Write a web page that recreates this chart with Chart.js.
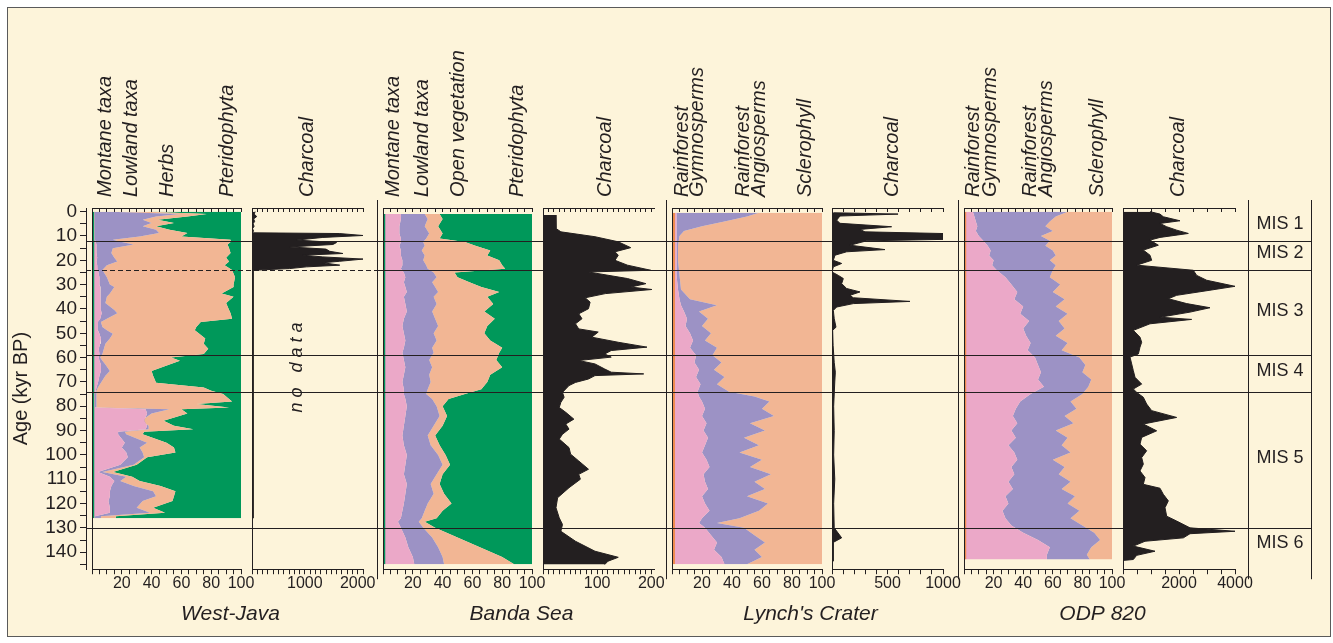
<!DOCTYPE html>
<html>
<head>
<meta charset="utf-8">
<script src="https://cdn.jsdelivr.net/npm/chart.js@4.4.1/dist/chart.umd.min.js"></script>
<style>
  html, body { margin: 0; background: #fff; }
</style>
</head>
<body>
<canvas id="pollen" width="1333" height="643"></canvas>
<script>
// Pollen columns hold cumulative % edges of the stacked bands.

// ---- West-Java ----
const javaAge = [0, 1, 2, 3.3, 4.7, 6, 7.4, 8.8, 10.2, 11.6, 12.5, 13.5, 15, 17, 19, 20.5, 22, 24, 27, 30,
  31, 33.6, 35, 37.6, 40.4, 41.8, 44, 45.4, 47.4, 48.8, 50.2, 52.2, 54.3, 56.4, 58.5, 60, 61.3, 62.8, 65.5, 67.5,
  70.3, 72.3, 73.6, 75, 78, 79.1, 80.5, 81.2, 83, 86, 88, 89.5, 90.5, 91.5, 95, 97, 99, 101, 104, 107,
  109, 110.7, 112.8, 114.9, 117, 119, 121.7, 123.8, 125.2, 126];
const javaStripAge = [0, 126];
const javaStrip = [1.5, 1.5];
const javaMontane = [2, 2, 2, 2, 2, 1.5, 1.5, 2, 2, 2, 2.5, 3, 3, 3, 3.5, 3, 3.5, 4, 5, 5,
  5.5, 6, 6, 5.5, 6, 6.5, 5.5, 4, 3.5, 4, 5, 6, 5.5, 4.5, 5, 4.5, 5, 6, 6, 5,
  4, 3, 2.5, 2, 2, 2, 2, 36, 37, 35, 37, 36, 17.5, 17.5, 22, 20, 23, 24, 19, 4,
  12, 15, 13, 12, 12, 11, 12, 12, 2, 2];
const javaLowland = [12, 59, 43, 34, 40, 34, 43, 45, 32, 14, 20, 28, 14, 13, 15, 17, 10, 7, 10, 12,
  15, 12, 10, 9, 15, 17, 10, 6, 7, 10, 14, 12, 9, 8, 7, 5.5, 7, 9, 12, 9,
  6, 4, 3, 3, 3, 3, 3, 52, 40, 33, 38, 38, 22, 23, 37, 32, 34, 35, 28, 7,
  23, 19, 28, 41, 43, 34, 30, 39, 6, 6];
const javaHerbs = [38, 77, 64, 44, 55, 43, 52, 64, 60, 93, 93, 91, 92, 93, 90, 92, 89, 94, 96, 95,
  95, 87, 95, 90, 92, 93, 94, 73, 70, 69, 72, 76, 75, 78, 75, 53, 59, 52, 40, 41,
  43, 75, 80, 88, 94, 70, 92, 60, 64, 48, 55, 68, 35, 34, 50, 55, 56, 37, 30, 14,
  27, 32, 46, 56, 55, 54, 41, 49, 16, 16];
const javaCharAge = [0, 1, 2, 3, 4, 5, 6, 7, 8, 8.7, 9, 9.8, 10.6, 11.7, 12.7, 13.5, 14.5, 15.4, 16.3, 17.2,
  17.9, 18.6, 19.5, 20.4, 21, 22, 22.7, 23.4, 24.1, 24.5, 126];
const javaChar = [60, 40, 90, 30, 50, 20, 40, 10, 30, 0, 1650, 2100, 1340, 840, 1600, 1530, 710, 1400, 1470, 1720,
  960, 1340, 2100, 1660, 1340, 1660, 1030, 710, 20, 20, 20];

// ---- Banda Sea ----
const bandaAge = [1, 3, 6, 9, 11, 12.5, 14, 16, 18, 20, 22, 23.5, 25, 27, 29, 31, 33, 35, 38, 41,
  44, 47, 50, 53, 56, 58, 61, 64, 67, 70, 73, 75, 77, 80, 84, 88, 92, 96, 100, 104,
  108, 112, 116, 120, 123, 126, 127.5, 130, 134, 138, 142, 145];
const bandaStripAge = [1, 145];
const bandaStrip = [1.5, 1.5];
const bandaMontane = [12, 12, 11, 11, 12, 12, 11, 12, 12, 13, 13, 12, 14, 15, 14, 15, 16, 14, 15, 16,
  14, 13, 14, 15, 14, 13, 14, 15, 14, 13, 14, 14, 15, 16, 15, 14, 13, 14, 16, 15,
  14, 16, 15, 14, 13, 12, 10, 12, 15, 17, 20, 21];
const bandaLowland = [28, 30, 28, 31, 29, 27, 28, 26, 28, 27, 29, 30, 34, 36, 33, 35, 37, 34, 36, 33,
  35, 37, 34, 36, 33, 34, 31, 33, 31, 32, 30, 29, 33, 36, 38, 34, 30, 32, 37, 40,
  36, 32, 34, 30, 28, 26, 24, 27, 33, 37, 40, 41];
const bandaOpen = [38, 40, 37, 40, 38, 55, 62, 72, 70, 78, 80, 82, 48, 50, 58, 66, 78, 70, 74, 68,
  75, 70, 68, 72, 80, 78, 76, 80, 72, 70, 66, 55, 44, 40, 43, 40, 35, 38, 42, 45,
  40, 38, 41, 46, 40, 36, 28, 35, 50, 65, 80, 88];
const bandaCharAge = [1.4, 6.9, 8.3, 10.3, 12.4, 14.8, 16.5, 17.9, 20, 22, 24.1, 24.8, 27.5, 29.6, 31, 32, 33.7, 35.4, 37.2, 39.9,
  42, 44, 46.1, 48.2, 49.5, 51.6, 53.7, 55.7, 57.1, 58.5, 59.8, 61.2, 62.6, 64.7, 66, 66.7, 67.4, 68.8, 70.2, 71.5,
  72.9, 74.3, 76.3, 78.4, 80.5, 82.5, 85.3, 87.3, 89.4, 91.5, 93.5, 97, 99.7, 102.5, 105.9, 108, 110, 113.5, 117.6, 121.7,
  125.9, 128.6, 131.4, 135.5, 139.6, 142.1, 143.7, 145.1];
const bandaChar = [23, 24, 33, 96, 139, 162, 133, 139, 133, 156, 199, 84, 156, 190, 162, 201, 115, 78, 87, 84,
  66, 72, 60, 66, 102, 90, 139, 192, 126, 114, 126, 66, 96, 114, 126, 186, 96, 84, 60, 48,
  42, 36, 39, 33, 30, 42, 57, 42, 48, 36, 30, 48, 51, 66, 84, 66, 69, 48, 27, 24,
  30, 36, 33, 60, 96, 139, 120, 114];

// ---- Lynch's Crater ----
const lynchAge = [0.5, 2, 4, 6, 8, 10, 14, 20, 26, 32, 36, 38.5, 41, 44, 47, 50, 53, 56, 59, 62,
  65, 68, 71, 74, 76, 78, 81, 84, 87, 90, 93, 96, 99, 102, 105, 108, 111, 114, 117, 120,
  123, 126, 128, 130, 133, 136, 139, 142, 145];
const lynchOtherAge = [0.5, 145];
const lynchOther = [2, 2];
const lynchGymno = [3, 3, 3, 3, 3, 3, 3, 3, 3, 4, 5, 6, 8, 10, 9, 12, 14, 12, 16, 15,
  18, 16, 19, 17, 18, 20, 22, 20, 23, 21, 24, 22, 20, 23, 25, 21, 22, 24, 20, 22,
  25, 20, 18, 22, 26, 30, 28, 33, 35];
const lynchAngio = [58, 50, 35, 20, 8, 5, 4, 4, 5, 6, 12, 30, 18, 24, 20, 26, 22, 30, 27, 33,
  28, 35, 30, 38, 55, 65, 60, 68, 52, 62, 48, 58, 45, 60, 52, 66, 55, 62, 50, 64,
  58, 45, 30, 48, 55, 62, 55, 60, 50];
const lynchCharAge = [0.45, 1, 1.8, 3.5, 4.8, 6.2, 7.3, 8.3, 9, 11.4, 12, 13.8, 15.6, 16.5, 17.9, 20, 21.3, 22.7, 24.8, 26.2,
  27.5, 29.6, 31.6, 33, 34.4, 35.4, 36.9, 37.8, 39.2, 40.6, 44, 47.5, 48.8, 55, 62, 66, 70, 80, 90, 100,
  110, 120, 130, 134.1, 136, 143.7];
const lynchChar = [12, 595, 72, 42, 72, 537, 252, 297, 1000, 1000, 312, 162, 477, 132, 27, 12, 87, 12, 0, 57,
  102, 87, 132, 252, 162, 192, 702, 192, 42, 12, 20, 36, 6, 10, 20, 30, 25, 15, 20, 15,
  25, 15, 20, 87, 10, 10];

// ---- ODP 820 ----
const odpAge = [0, 2, 4, 6, 8, 10, 12, 14, 16, 18, 20, 22, 24, 27, 30, 33, 36, 39, 42, 45,
  48, 51, 54, 57, 60, 63, 66, 69, 72, 75, 78, 81, 84, 87, 90, 93, 96, 99, 102, 105,
  108, 111, 114, 117, 120, 123, 126, 129, 132, 135, 138, 141, 143];
const odpOtherAge = [0, 143];
const odpOther = [1.5, 1.5];
const odpGymno = [6, 7, 8, 9, 8, 10, 13, 16, 18, 17, 20, 19, 22, 28, 32, 36, 34, 40, 38, 44,
  40, 42, 45, 43, 48, 50, 52, 50, 54, 45, 38, 35, 33, 36, 32, 35, 30, 34, 36, 32,
  34, 30, 33, 28, 30, 26, 28, 32, 40, 50, 58, 56, 56];
const odpAngio = [70, 62, 58, 55, 60, 52, 58, 55, 60, 62, 58, 62, 60, 58, 65, 60, 68, 62, 70, 64,
  68, 62, 70, 66, 78, 82, 80, 86, 84, 80, 72, 76, 68, 74, 62, 70, 66, 72, 60, 68,
  64, 72, 66, 75, 70, 78, 72, 80, 88, 92, 86, 83, 85];
const odpCharAge = [0, 1, 2.1, 3.75, 4.84, 6.2, 7.6, 8.97, 10.6, 11.7, 13.8, 15.8, 17.9, 20, 22, 24.1, 26.2, 28.2, 30.7, 32.3,
  34.4, 35.8, 37.8, 39.5, 41.3, 43.4, 44.3, 46.1, 48.8, 51.6, 53.7, 55.7, 58.5, 59.8, 62.6, 65.4, 68.1, 70.9, 72.9, 74.3,
  76.3, 79.1, 81.8, 84.6, 87.3, 90.1, 92.8, 95.6, 98.3, 101.1, 103.8, 106.6, 109.3, 112.1, 113.7, 116.2, 118.9, 121.7, 125.2, 127.2,
  130, 131.4, 132.4, 134.1, 135.5, 137.5, 139.6, 141.3, 143, 143.4];
const odpChar = [964, 1321, 1440, 2035, 1321, 1560, 1916, 2333, 1321, 964, 1262, 726, 964, 1024, 488, 2512, 2631, 2988, 4000, 3107,
  1916, 1619, 2274, 3107, 2393, 1321, 2452, 964, 369, 607, 667, 607, 548, 250, 310, 369, 429, 667, 369, 488,
  726, 845, 1024, 1916, 726, 1202, 667, 607, 845, 667, 726, 607, 786, 726, 1321, 1440, 1619, 1500, 1560, 1916,
  2393, 4000, 2393, 2155, 786, 369, 1143, 488, 369, 0];

// marine isotope stage boundaries (kyr) and names
const misBounds = [12, 24, 59, 74, 130];
const misNames = ['MIS 1', 'MIS 2', 'MIS 3', 'MIS 4', 'MIS 5', 'MIS 6'];
const ageTicks = [0, 10, 20, 30, 40, 50, 60, 70, 80, 90, 100, 110, 120, 130, 140];

const INK = '#231f20';
const CREAM = '#fdf4da';
const PINK = '#eba8c8', LAV = '#9c92c5', PEACH = '#f2b694', GREEN = '#00985a', ORANGE = '#ef8c4e';
const FONT = '"Liberation Sans", Arial, Helvetica, sans-serif';

// columns left to right; w = share of the plot width
const panels = [
  { id: 'g0', w: 6 },
  { id: 'wjP', w: 149, max: 100, step: 5, show: [20, 40, 60, 80, 100] },
  { id: 'g1', w: 11 },
  { id: 'wjC', w: 111, max: 2100, step: 100, show: [1000, 2000] },
  { id: 'g2', w: 20, sep: true },
  { id: 'bsP', w: 149, max: 100, step: 5, show: [20, 40, 60, 80, 100] },
  { id: 'g3', w: 11 },
  { id: 'bsC', w: 111, max: 205, step: 10, show: [100, 200] },
  { id: 'g4', w: 18, sep: true },
  { id: 'lcP', w: 150, max: 100, step: 5, show: [20, 40, 60, 80, 100] },
  { id: 'g5', w: 10 },
  { id: 'lcC', w: 111, max: 1000, step: 100, show: [500, 1000] },
  { id: 'g6', w: 21, sep: true },
  { id: 'odP', w: 148, max: 100, step: 5, show: [20, 40, 60, 80, 100] },
  { id: 'g7', w: 11 },
  { id: 'odC', w: 112, max: 4000, step: 500, show: [2000, 4000] },
  { id: 'mis', w: 77 }
];

const headers = {
  wjP: [['Montane taxa', 8.7], ['Lowland taxa', 26.8], ['Herbs', 50.3], ['Pteridophyta', 90.6]],
  wjC: [['Charcoal', 1040]],
  bsP: [['Montane taxa', 6.7], ['Lowland taxa', 26.8], ['Open vegetation', 50.3], ['Pteridophyta', 90]],
  bsC: [['Charcoal', 115]],
  lcP: [['Rainforest', 6.7], ['Gymnosperms', 16.7], ['Rainforest', 47.3], ['Angiosperms', 58], ['Sclerophyll', 88.7]],
  lcC: [['Charcoal', 540]],
  odP: [['Rainforest', 6.1], ['Gymnosperms', 17.6], ['Rainforest', 44.6], ['Angiosperms', 56], ['Sclerophyll', 89.9]],
  odC: [['Charcoal', 1964]]
};
const sites = [['West-Java', 'wjP', 'wjC'], ['Banda Sea', 'bsP', 'bsC'], ["Lynch's Crater", 'lcP', 'lcC'], ['ODP 820', 'odP', 'odC']];

const scales = {
  y: {
    type: 'linear', position: 'left', reverse: true, min: -1.5, max: 147,
    afterFit: s => { s.width = 77; },
    border: { color: INK, width: 1 },
    grid: { drawOnChartArea: false, color: INK, tickLength: 6 },
    ticks: {
      stepSize: 5, includeBounds: false, autoSkip: false, padding: 3, color: INK,
      font: { family: FONT, size: 19 },
      callback: v => ageTicks.includes(v) ? String(v) : ''
    },
    title: { display: true, text: 'Age (kyr BP)', color: INK, font: { family: FONT, size: 20 }, padding: { top: 0, bottom: 2 } }
  }
};
panels.forEach((p, i) => {
  const real = p.max !== undefined;
  const base = { type: 'linear', min: 0, max: real ? p.max : 1, stackWeight: p.w, display: true };
  scales[p.id] = Object.assign({}, base, {
    position: 'bottom', stack: 'row', weight: i,
    border: { display: real, color: INK },
    grid: { display: real, drawTicks: real, drawOnChartArea: false, color: INK, tickLength: 5 },
    ticks: real ? {
      stepSize: p.step, includeBounds: false, autoSkip: false, maxRotation: 0, minRotation: 0, padding: 0,
      color: INK, font: { family: FONT, size: 16 },
      callback: v => p.show.includes(v) ? String(v) : ''
    } : { display: false }
  });
  // top axes: zero height, tick marks hang down into the plot
  scales[p.id + 'T'] = Object.assign({}, base, {
    position: 'top', stack: 'row', weight: 100 - i,
    afterFit: s => { s.height = 0; },
    border: { display: real, color: INK },
    grid: { display: real, drawTicks: real, drawOnChartArea: false, color: INK, tickLength: -4 },
    ticks: real ? { display: false, stepSize: p.step, includeBounds: false } : { display: false }
  });
});

function series(ages, vals, axis, color, fill, border) {
  return {
    data: ages.map((a, i) => ({ x: vals[i], y: a })),
    xAxisID: axis, yAxisID: 'y',
    backgroundColor: color, borderColor: color, borderWidth: border || 0,
    pointRadius: 0, tension: 0, fill: fill
  };
}
// earlier datasets are painted on top; '-1' fills to the dataset just before
const datasets = [
  series(javaStripAge, javaStrip, 'wjP', GREEN, 'origin'),
  series(javaAge, javaMontane, 'wjP', PINK, 'origin'),
  series(javaAge, javaLowland, 'wjP', LAV, '-1'),
  series(javaAge, javaHerbs, 'wjP', PEACH, '-1'),
  series(javaAge, javaHerbs, 'wjP', GREEN, { value: 100 }),
  series(javaCharAge, javaChar, 'wjC', INK, 'origin', 1),
  series(bandaStripAge, bandaStrip, 'bsP', GREEN, 'origin'),
  series(bandaAge, bandaMontane, 'bsP', PINK, 'origin'),
  series(bandaAge, bandaLowland, 'bsP', LAV, '-1'),
  series(bandaAge, bandaOpen, 'bsP', PEACH, '-1'),
  series(bandaAge, bandaOpen, 'bsP', GREEN, { value: 100 }),
  series(bandaCharAge, bandaChar, 'bsC', INK, 'origin', 1),
  series(lynchOtherAge, lynchOther, 'lcP', ORANGE, 'origin'),
  series(lynchAge, lynchGymno, 'lcP', PINK, 'origin'),
  series(lynchAge, lynchAngio, 'lcP', LAV, '-1'),
  series(lynchAge, lynchAngio, 'lcP', PEACH, { value: 100 }),
  series(lynchCharAge, lynchChar, 'lcC', INK, 'origin', 1),
  series(odpOtherAge, odpOther, 'odP', ORANGE, 'origin'),
  series(odpAge, odpGymno, 'odP', PINK, 'origin'),
  series(odpAge, odpAngio, 'odP', LAV, '-1'),
  series(odpAge, odpAngio, 'odP', PEACH, { value: 100 }),
  series(odpCharAge, odpChar, 'odC', INK, 'origin', 1)
];

const overlay = {
  id: 'overlay',
  beforeDraw(chart) {
    const ctx = chart.ctx;
    ctx.save();
    ctx.fillStyle = '#fff';
    ctx.fillRect(0, 0, chart.width, chart.height);
    ctx.fillStyle = CREAM;
    ctx.fillRect(7.5, 7.5, 1323, 629);
    ctx.strokeStyle = '#5a5a5a';
    ctx.lineWidth = 1;
    ctx.strokeRect(7.5, 7.5, 1323, 629);
    ctx.restore();
  },
  afterDraw(chart) {
    const ctx = chart.ctx, area = chart.chartArea, y = chart.scales.y;
    const sc = id => chart.scales[id];
    ctx.save();
    ctx.strokeStyle = INK;
    ctx.fillStyle = INK;
    ctx.lineWidth = 1;
    const vline = (x, y0, y1) => { ctx.beginPath(); ctx.moveTo(Math.round(x) + 0.5, y0); ctx.lineTo(Math.round(x) + 0.5, y1); ctx.stroke(); };

    // left edge of every pollen / charcoal column
    panels.filter(p => p.max !== undefined).forEach(p => vline(sc(p.id).left, area.top, area.bottom));
    // site separators and the MIS column
    panels.filter(p => p.sep).forEach(p => vline(sc(p.id).right - 6, area.top - 8, area.bottom + 10));
    const misLeft = sc('odC').right + 13;
    vline(misLeft, area.top - 8, area.bottom + 10);
    vline(area.right - 1, area.top - 8, area.bottom + 10);

    // stage boundaries across all columns (dashed through West-Java at 24 kyr)
    const javaEnd = sc('g2').right - 6;
    ctx.lineWidth = 1.2;
    misBounds.forEach(b => {
      const py = Math.round(y.getPixelForValue(b)) + 0.5;
      ctx.beginPath();
      if (b === 24) {
        ctx.setLineDash([5, 3]);
        ctx.moveTo(area.left, py); ctx.lineTo(javaEnd, py); ctx.stroke();
        ctx.setLineDash([]);
        ctx.beginPath();
        ctx.moveTo(javaEnd, py);
      } else {
        ctx.moveTo(area.left, py);
      }
      ctx.lineTo(area.right - 1, py);
      ctx.stroke();
    });

    // MIS labels
    const edges = [0].concat(misBounds, [144]);
    ctx.font = '18px ' + FONT;
    ctx.textAlign = 'center';
    ctx.textBaseline = 'middle';
    misNames.forEach((n, i) => {
      const mid = (edges[i] + edges[i + 1]) / 2;
      ctx.fillText(n, (misLeft + area.right) / 2, y.getPixelForValue(mid) - 2);
    });

    // rotated column headers
    ctx.font = 'italic 20px ' + FONT;
    ctx.textAlign = 'left';
    Object.keys(headers).forEach(id => {
      headers[id].forEach(([text, at]) => {
        ctx.save();
        ctx.translate(sc(id).getPixelForValue(at), area.top - 11);
        ctx.rotate(-Math.PI / 2);
        ctx.fillText(text, 0, 0);
        ctx.restore();
      });
    });

    // "no data" in West-Java charcoal
    ctx.save();
    ctx.font = 'italic 18px ' + FONT;
    ctx.letterSpacing = '5px';
    ctx.textAlign = 'center';
    ctx.translate(sc('wjC').getPixelForValue(850), y.getPixelForValue(63));
    ctx.rotate(-Math.PI / 2);
    ctx.fillText('no data', 0, 0);
    ctx.restore();

    // site names
    ctx.font = 'italic 21px ' + FONT;
    ctx.textAlign = 'center';
    sites.forEach(([name, a, b]) => {
      ctx.fillText(name, (sc(a).left + sc(b).right) / 2 + 3, area.bottom + 45);
    });
    ctx.restore();
  }
};

new Chart(document.getElementById('pollen').getContext('2d'), {
  type: 'line',
  data: { datasets },
  options: {
    indexAxis: 'y',
    responsive: false,
    animation: false,
    devicePixelRatio: 1,
    events: [],
    layout: { padding: { left: 9, top: 208, right: 21, bottom: 51 } },
    scales,
    plugins: { legend: { display: false }, tooltip: { enabled: false } }
  },
  plugins: [overlay]
});
</script>
</body>
</html>
